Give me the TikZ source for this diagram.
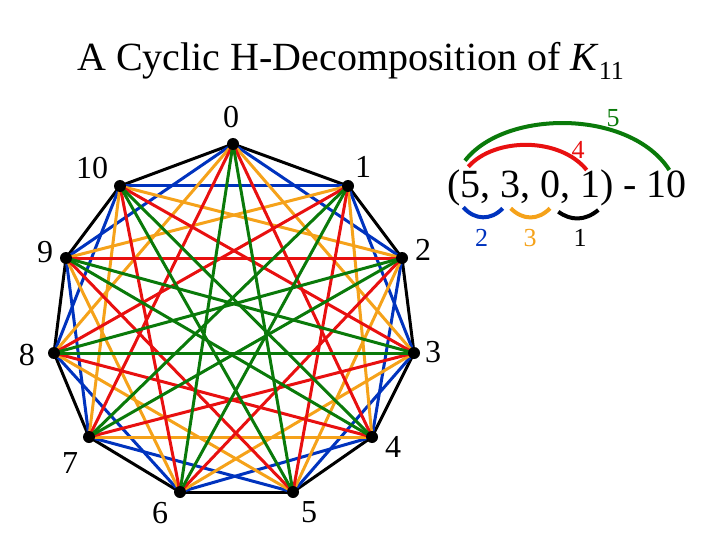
\documentclass[tikz,border=0pt]{standalone}
\usepackage{fontspec}
\setmainfont{Liberation Serif}
\definecolor{eblue}{RGB}{0,51,190}
\definecolor{eorange}{RGB}{245,162,26}
\definecolor{ered}{RGB}{232,16,16}
\definecolor{egreen}{RGB}{10,122,10}
\begin{document}
\begin{tikzpicture}[x=1pt,y=-1pt,
  edge/.style={line width=3pt},
  e1/.style={edge,black},
  e2/.style={edge,eblue},
  e3/.style={edge,eorange},
  e4/.style={edge,ered},
  e5/.style={edge,egreen},
  vdot/.style={circle,fill=black,inner sep=0pt,minimum size=12pt},
  vlab/.style={inner sep=0pt,font=\fontsize{32}{32}\selectfont},
  slab/.style={inner sep=0pt,font=\fontsize{26}{26}\selectfont},
  arcline/.style={line width=4pt}]
\useasboundingbox (0,0) rectangle (720,540);
% vertex positions
\foreach \i/\x/\y in {0/233/144,1/348/186,2/402/258,3/414/353,4/372/437,5/293/492,6/180/492,7/89/437,8/54/353,9/66/258,10/120/186}
  \coordinate (v\i) at (\x,\y);
% edges by cyclic distance
\foreach \d in {1,...,5}{
  \foreach \i in {0,...,10}{
    \pgfmathtruncatemacro\j{mod(\i+\d,11)}
    \draw[e\d] (v\i) -- (v\j);
  }
}
% vertex dots
\foreach \i in {0,...,10} \node[vdot] (d\i) at (v\i) {};
% vertex labels
\foreach \i/\x/\y in {0/231/117,1/363/167,2/423/250,3/433/352,4/393/447,5/309/512,6/160/513,7/70/463,8/27/355,9/45/252,10/92/168}
  \node[vlab] (l\i) at (\x,\y) {\i};
% title
\node[inner sep=0pt,anchor=base west,font=\fontsize{40}{40}\selectfont] (title) at (77,71)
  {A Cyclic H-Decomposition of \textit{K}\raisebox{-9pt}{\fontsize{26}{26}\selectfont 11}};
% sequence
\node[inner sep=0pt,anchor=base,font=\fontsize{40}{40}\selectfont] (seq) at (567,198) {(5, 3, 0, 1) - 10};
% arc endpoints
\coordinate (gA) at (465,160.7); \coordinate (gB) at (669.3,170);
\coordinate (rA) at (468.3,166.7); \coordinate (rB) at (586.7,170);
\coordinate (bA) at (463.3,207.3); \coordinate (bB) at (502.7,208.3);
\coordinate (oA) at (510.7,208.3); \coordinate (oB) at (550,208.3);
\coordinate (kA) at (558.3,211.7); \coordinate (kB) at (598.3,210);
\draw[arcline,egreen] (gA) .. controls (505,109) and (630,109) .. (gB);
\draw[arcline,ered] (rA) .. controls (495,137) and (560,137) .. (rB);
\draw[arcline,eblue] (bA) .. controls (475,220.5) and (491,220.5) .. (bB);
\draw[arcline,eorange] (oA) .. controls (523,220.5) and (538,220.5) .. (oB);
\draw[arcline,black] (kA) .. controls (571,221) and (585,221) .. (kB);
\node[slab,egreen] (n5) at (613,118) {5};
\node[slab,ered] (n4) at (578,150) {4};
\node[slab,eblue] (n2) at (481.7,238) {2};
\node[slab,eorange] (n3) at (530,238) {3};
\node[slab,black] (n1) at (580,238) {1};
\end{tikzpicture}
\end{document}
